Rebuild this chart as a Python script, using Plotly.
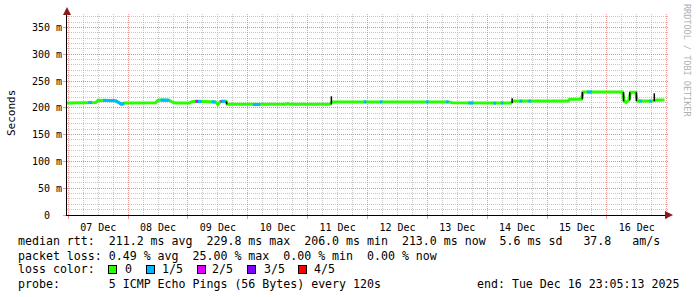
import plotly.graph_objects as go

# ---------------- data ----------------
times = [
    "2025-12-06 23:05", "2025-12-07 05:00", "2025-12-07 08:00", "2025-12-07 09:30",
    "2025-12-07 11:00", "2025-12-07 12:00", "2025-12-07 14:00", "2025-12-07 19:00",
    "2025-12-07 21:30", "2025-12-07 22:30", "2025-12-08 11:00", "2025-12-08 12:00",
    "2025-12-08 13:00", "2025-12-08 16:30", "2025-12-08 18:00", "2025-12-08 19:00",
    "2025-12-09 00:30", "2025-12-09 01:30", "2025-12-09 03:00", "2025-12-09 04:00",
    "2025-12-09 05:30", "2025-12-09 09:30", "2025-12-09 11:00", "2025-12-09 12:00",
    "2025-12-09 13:00", "2025-12-09 13:30", "2025-12-09 15:15", "2025-12-09 15:45",
    "2025-12-10 02:00", "2025-12-10 05:00", "2025-12-10 15:00", "2025-12-10 16:00",
    "2025-12-10 17:00", "2025-12-11 09:00", "2025-12-11 09:45", "2025-12-11 22:30",
    "2025-12-11 23:30", "2025-12-12 05:00", "2025-12-12 06:00", "2025-12-12 23:30",
    "2025-12-13 00:30", "2025-12-13 07:30", "2025-12-13 08:30", "2025-12-13 10:00",
    "2025-12-13 16:30", "2025-12-13 18:30", "2025-12-14 02:30", "2025-12-14 03:30",
    "2025-12-14 05:30", "2025-12-14 06:30", "2025-12-14 09:30", "2025-12-14 10:30",
    "2025-12-14 13:00", "2025-12-14 14:00", "2025-12-14 16:30", "2025-12-14 17:30",
    "2025-12-15 08:30", "2025-12-15 09:00", "2025-12-15 13:45", "2025-12-15 14:30",
    "2025-12-15 16:00", "2025-12-15 18:00", "2025-12-16 06:15", "2025-12-16 07:00",
    "2025-12-16 07:45", "2025-12-16 08:45", "2025-12-16 09:30", "2025-12-16 11:30",
    "2025-12-16 12:15", "2025-12-16 13:00", "2025-12-16 14:00", "2025-12-16 17:00",
    "2025-12-16 18:00", "2025-12-16 20:00", "2025-12-16 23:05",
]
median_rtt = [
    209.0, 209.5, 210.0, 210.0, 210.0, 214.0, 214.0, 213.0,
    206.0, 209.0, 209.5, 214.0, 214.5, 214.0, 210.0, 209.0,
    209.0, 211.5, 212.0, 212.0, 212.0, 211.5, 211.0, 206.0,
    211.5, 212.0, 212.0, 206.5, 206.0, 206.0, 206.5, 208.0,
    206.5, 206.5, 211.0, 211.0, 211.0, 211.0, 211.0, 211.0,
    211.0, 211.0, 211.0, 209.5, 209.0, 209.0, 208.5, 208.5,
    209.0, 209.0, 209.0, 212.5, 212.5, 212.5, 212.5, 212.5,
    212.5, 216.0, 216.0, 229.5, 229.5, 229.5, 229.5, 212.0,
    210.0, 214.0, 229.0, 229.0, 212.5, 212.5, 212.5, 212.5,
    212.5, 214.5, 214.5,
]
# loss level (0..4 of 5 pings) of the segment starting at each point
loss_level = [
    0, 0, 1, 0, 0, 0, 1, 1,
    1, 0, 0, 0, 1, 0, 0, 0,
    0, 0, 2, 1, 0, 1, 0, 0,
    2, 1, 0, 0, 1, 0, 0, 0,
    0, 0, 0, 1, 0, 1, 0, 1,
    0, 1, 0, 0, 1, 0, 1, 0,
    1, 0, 0, 0, 1, 0, 1, 0,
    0, 0, 0, 0, 1, 0, 0, 0,
    0, 0, 0, 0, 0, 1, 0, 1,
    0, 0, 0,
]
spike_times = ["2025-12-09 15:30", "2025-12-11 09:30", "2025-12-14 10:00", "2025-12-15 14:10",
               "2025-12-16 06:40", "2025-12-16 09:10", "2025-12-16 11:50", "2025-12-16 19:00"]
spike_low = [206.5, 206.5, 209.0, 216.0, 212.0, 214.0, 212.5, 212.5]
spike_high = [212.0, 221.5, 218.0, 229.5, 229.5, 229.0, 229.0, 227.0]

loss_colors = ["#26ff00", "#00b8ff", "#dd00ff", "#7e00ff", "#ff0000"]
loss_labels = ["0", "1/5", "2/5", "3/5", "4/5"]

y_tickvals = [0, 50, 100, 150, 200, 250, 300, 350]
y_ticktext = ["0\u00a0\u00a0", "50 m", "100 m", "150 m", "200 m", "250 m", "300 m", "350 m"]

stats_rtt = "median rtt:  211.2 ms avg  229.8 ms max  206.0 ms min  213.0 ms now  5.6 ms sd   37.8   am/s"
stats_loss = "packet loss: 0.49 % avg  25.00 % max  0.00 % min  0.00 % now"
probe_text = "probe:       5 ICMP Echo Pings (56 Bytes) every 120s"
end_text = "end: Tue Dec 16 23:05:13 2025"

# ---------------- layout geometry ----------------
W, H = 697, 297
L, R, T, B = 67, 29, 14, 82
PW, PH = W - L - R, H - T - B
MONO = "DejaVu Sans Mono"


def px(xp):
    return (xp - L) / PW


def py(yp):
    return (H - B - yp) / PH


def nb(s):
    return s.replace(" ", "\u00a0")


fig = go.Figure()

# base median line (loss 0 colour)
fig.add_trace(go.Scatter(x=times, y=median_rtt, mode="lines",
                         line=dict(color=loss_colors[0], width=3),
                         hoverinfo="skip", showlegend=False))

# overlays for segments with packet loss
for lvl in range(1, 5):
    xs, ys = [], []
    for i in range(len(times) - 1):
        if loss_level[i] == lvl:
            xs += [times[i], times[i + 1], None]
            ys += [median_rtt[i], median_rtt[i + 1], None]
    if xs:
        fig.add_trace(go.Scatter(x=xs, y=ys, mode="lines",
                                 line=dict(color=loss_colors[lvl], width=3),
                                 hoverinfo="skip", showlegend=False))

# black transitions / spikes
sx, sy = [], []
for t, lo, hi in zip(spike_times, spike_low, spike_high):
    sx += [t, t, None]
    sy += [lo, hi, None]
fig.add_trace(go.Scatter(x=sx, y=sy, mode="lines", line=dict(color="#000000", width=1.5),
                         hoverinfo="skip", showlegend=False))

major_grid = "rgba(230,120,120,0.75)"
minor_grid = "rgba(160,160,160,0.6)"

fig.update_layout(
    width=W, height=H, autosize=False,
    margin=dict(l=L, r=R, t=T, b=B, pad=0),
    paper_bgcolor="#ffffff", plot_bgcolor="#ffffff",
    showlegend=False,
    font=dict(family=MONO, size=10, color="#000000"),
    xaxis=dict(
        type="date",
        range=["2025-12-06 23:29", "2025-12-17 00:30"],
        tick0="2025-12-07", dtick=86400000,
        tickformat="%d %b", ticklabelmode="period",
        showgrid=True, gridcolor=major_grid, griddash="1px,1px", gridwidth=1,
        minor=dict(dtick=6 * 3600 * 1000, tick0="2025-12-07", showgrid=True,
                   gridcolor=minor_grid, griddash="1px,1px", ticks=""),
        ticks="outside", ticklen=3, tickcolor=major_grid,
        showline=True, linecolor="#000000", linewidth=1,
        zeroline=False, fixedrange=True,
        tickfont=dict(family=MONO, size=10, color="#000000"),
    ),
    yaxis=dict(
        range=[0, 375],
        tickvals=y_tickvals, ticktext=y_ticktext,
        showgrid=True, gridcolor=major_grid, griddash="1px,1px", gridwidth=1,
        minor=dict(dtick=10, tick0=0, showgrid=True, gridcolor=minor_grid,
                   griddash="1px,1px", ticks=""),
        ticks="outside", ticklen=3, tickcolor=major_grid,
        ticklabelstandoff=-1,
        showline=True, linecolor="#000000", linewidth=1,
        zeroline=False, fixedrange=True,
        tickfont=dict(family=MONO, size=10, color="#000000"),
    ),
)

ann = []
# y-axis title
ann.append(dict(text="Seconds", xref="paper", yref="paper", x=px(11), y=py(113),
                xanchor="center", yanchor="middle", textangle=-90, showarrow=False,
                font=dict(family=MONO, size=11, color="#000000")))
# watermark
ann.append(dict(text=nb("RRDTOOL / TOBI OETIKER"), xref="paper", yref="paper",
                x=px(687), y=py(60), xanchor="center", yanchor="middle", textangle=90,
                showarrow=False, font=dict(family=MONO, size=8.5, color="#b0b0b0")))
# axis arrows
ann.append(dict(text="", xref="paper", yref="paper", x=px(673), y=py(215),
                ax=-6, ay=0, showarrow=True, arrowhead=2, arrowsize=1.6, arrowwidth=1,
                arrowcolor="#8b1a1a"))
ann.append(dict(text="", xref="paper", yref="paper", x=px(67), y=py(7),
                ax=0, ay=6, showarrow=True, arrowhead=2, arrowsize=1.6, arrowwidth=1,
                arrowcolor="#8b1a1a"))

LEG = 11.6
for txt, yy in [(stats_rtt, 241), (stats_loss, 255.5), ("loss color:", 269), (probe_text, 283.5)]:
    ann.append(dict(text=nb(txt), xref="paper", yref="paper", x=px(16), y=py(yy),
                    xanchor="left", yanchor="middle", showarrow=False,
                    font=dict(family=MONO, size=LEG, color="#000000")))
ann.append(dict(text=nb(end_text), xref="paper", yref="paper", x=px(681), y=py(283.5),
                xanchor="right", yanchor="middle", showarrow=False,
                font=dict(family=MONO, size=LEG, color="#000000")))

swatch_x = [112.5, 150, 201, 251.5, 302]
label_x = [123, 160, 210, 262, 312]
for c, lab, sxp, lxp in zip(loss_colors, loss_labels, swatch_x, label_x):
    ann.append(dict(text="\u00a0", xref="paper", yref="paper", x=px(sxp), y=py(269),
                    xanchor="center", yanchor="middle", showarrow=False,
                    width=7, height=7, borderpad=0, borderwidth=1, bordercolor="#000000",
                    bgcolor=c, font=dict(size=1)))
    ann.append(dict(text=nb(lab), xref="paper", yref="paper", x=px(lxp), y=py(269),
                    xanchor="left", yanchor="middle", showarrow=False,
                    font=dict(family=MONO, size=LEG, color="#000000")))

fig.update_layout(annotations=ann)
fig.write_html("out.html", config={"displayModeBar": False})
